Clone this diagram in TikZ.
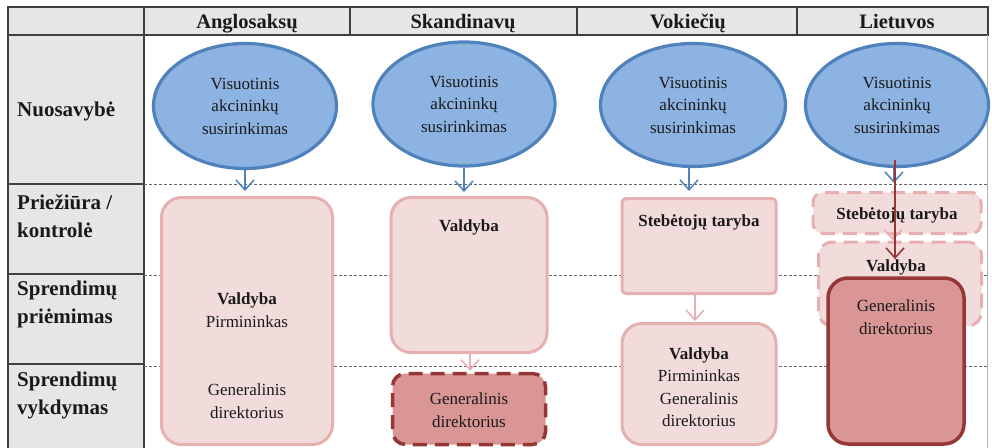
\documentclass[tikz,border=0pt]{standalone}
\usepackage{fontspec}
\setmainfont{Liberation Serif}
\usetikzlibrary{arrows.meta,shapes.geometric}
\definecolor{hdrgray}{HTML}{E6E6E6}
\definecolor{gridline}{HTML}{404040}
\definecolor{ellfill}{HTML}{8DB3E2}
\definecolor{elldraw}{HTML}{4F81BD}
\definecolor{pinkfill}{HTML}{F2DCDB}
\definecolor{pinkdraw}{HTML}{E6B0B0}
\definecolor{darkfill}{HTML}{D99694}
\definecolor{darkdraw}{HTML}{953735}
\definecolor{txtcol}{HTML}{1A1A1A}
\begin{document}
\begin{tikzpicture}[x=1pt,y=-1pt,
  hdr/.style={font=\fontsize{20.5}{24}\selectfont\bfseries, text=txtcol, anchor=base, inner sep=0pt},
  rowlbl/.style={font=\fontsize{21}{28}\selectfont\bfseries, text=txtcol, anchor=west, align=left, inner sep=0pt},
  body/.style={font=\fontsize{17}{22.5}\selectfont, text=txtcol, align=center, inner sep=0pt},
  gsm/.style={ellipse, draw=elldraw, fill=ellfill, line width=3.2pt, inner sep=0pt},
  lightbox/.style={rectangle, draw=pinkdraw, fill=pinkfill, line width=3pt, inner sep=0pt},
  darkbox/.style={rectangle, draw=darkdraw, fill=darkfill, line width=3.5pt, inner sep=0pt},
  dashbox/.style={dash pattern=on 14pt off 8pt},
  rowsep/.style={draw=gridline!80, line width=0.9pt, dash pattern=on 3pt off 2pt},
  bluearr/.style={draw=elldraw, line width=1.5pt, -{Straight Barb[length=10pt,width=18pt,line width=1.5pt]}},
  pinkarr/.style={draw=pinkdraw, line width=1.5pt, -{Straight Barb[length=10pt,width=18pt,line width=1.5pt]}},
  redarr/.style={draw=darkdraw, line width=1.6pt, -{Straight Barb[length=10pt,width=18pt,line width=1.6pt]}}
]
\useasboundingbox (0,0) rectangle (992,447);
\fill[white] (0,0) rectangle (992,447);
% table frame
\fill[hdrgray] (8,7) rectangle (988,35);
\fill[hdrgray] (8,35) rectangle (144,450);
\draw[gridline, line width=1.6pt] (8,7) rectangle (988,35);
\draw[gridline, line width=1.6pt] (8,35) -- (8,450);
\draw[gridline, line width=1.6pt] (144,7) -- (144,450);
\foreach \x in {350,577,797} \draw[gridline, line width=1.2pt] (\x,7) -- (\x,35);
\foreach \y in {184,274,364} \draw[gridline, line width=1.2pt] (8,\y) -- (144,\y);
\draw[gridline!40, line width=0.6pt] (987,35) -- (987,450);
\foreach \y in {184,275,366} \draw[rowsep] (144,\y) -- (987,\y);
% headers
\node[hdr] (h1) at (247,28) {Anglosaksų};
\node[hdr] (h2) at (463,28) {Skandinavų};
\node[hdr] (h3) at (688,28) {Vokiečių};
\node[hdr] (h4) at (897,28) {Lietuvos};
% row labels
\node[rowlbl] (r1) at (17,111) {Nuosavybė};
\node[rowlbl] (r2) at (17,216) {Priežiūra /\\kontrolė};
\node[rowlbl] (r3) at (17,304) {Sprendimų\\priėmimas};
\node[rowlbl] (r4) at (17,395) {Sprendimų\\vykdymas};
% ellipses
\node[gsm, minimum width=183pt, minimum height=125pt, body] (e1) at (245,106) {Visuotinis\\akcininkų\\susirinkimas};
\node[gsm, minimum width=182pt, minimum height=124pt, body] (e2) at (464,104) {Visuotinis\\akcininkų\\susirinkimas};
\node[gsm, minimum width=185pt, minimum height=123pt, body] (e3) at (693,105) {Visuotinis\\akcininkų\\susirinkimas};
\node[gsm, minimum width=183pt, minimum height=123pt, body] (e4) at (897,105) {Visuotinis\\akcininkų\\susirinkimas};
% Anglosaksu
\node[lightbox, rounded corners=20pt, minimum width=171pt, minimum height=247pt] (b1) at (247,321) {};
\node[body] (b1t) at (247,310) {\textbf{Valdyba}\\Pirmininkas};
\node[body] (b1g) at (247,401) {Generalinis\\direktorius};
% Skandinavu
\node[lightbox, rounded corners=20pt, minimum width=156pt, minimum height=155pt] (b2) at (469,275) {};
\node[body] (b2t) at (469,227) {\textbf{Valdyba}};
\node[darkbox, dashbox, rounded corners=13pt, minimum width=153pt, minimum height=71pt] (b2g) at (469,409) {};
\node[body] (b2gt) at (469,410) {Generalinis\\direktorius};
% Vokieciu
\node[lightbox, rounded corners=4pt, minimum width=154pt, minimum height=95pt] (b3s) at (699,246) {};
\node[body] (b3st) at (699,222) {\textbf{Stebėtojų taryba}};
\node[lightbox, rounded corners=20pt, minimum width=154pt, minimum height=121pt] (b3v) at (699,384) {};
\node[body] (b3vt) at (699,387) {\textbf{Valdyba}\\Pirmininkas\\Generalinis\\direktorius};
% Lietuvos
\node[lightbox, dashbox, rounded corners=10pt, minimum width=168pt, minimum height=41pt] (b4s) at (897,213) {};
\node[body] (b4st) at (897,215) {\textbf{Stebėtojų taryba}};
\node[lightbox, dashbox, rounded corners=14pt, minimum width=163pt, minimum height=84pt] (b4v) at (900,284) {};
\node[body] (b4vt) at (896,267) {\textbf{Valdyba}};
\node[darkbox, rounded corners=20pt, minimum width=136pt, minimum height=166pt] (b4g) at (896,361) {};
\node[body] (b4gt) at (896,317) {Generalinis\\direktorius};
% connectors
\draw[bluearr, shorten >=5pt] (e1.south) -- (b1.north -| e1.south);
\draw[bluearr, shorten >=4pt] (e2.south) -- (b2.north -| e2.south);
\draw[bluearr, shorten >=6pt] (e3.south -| 689,0) -- (b3s.north -| 689,0);
\draw[bluearr, shorten >=8pt] (e4.south -| 894,0) -- (b4s.north -| 894,0);
\draw[pinkarr, shorten >=1pt] (b2.south -| 470,0) -- (b2g.north -| 470,0);
\draw[pinkarr, shorten >=1pt] (b3s.south -| 695,0) -- (b3v.north -| 695,0);
\draw[pinkarr] (b4s.south -| 893,0) -- (b4v.north -| 893,0);
\coordinate (rstart) at (895,160);
\draw[redarr] (rstart) -- (b4vt.north -| 895,0);
\end{tikzpicture}
\end{document}
